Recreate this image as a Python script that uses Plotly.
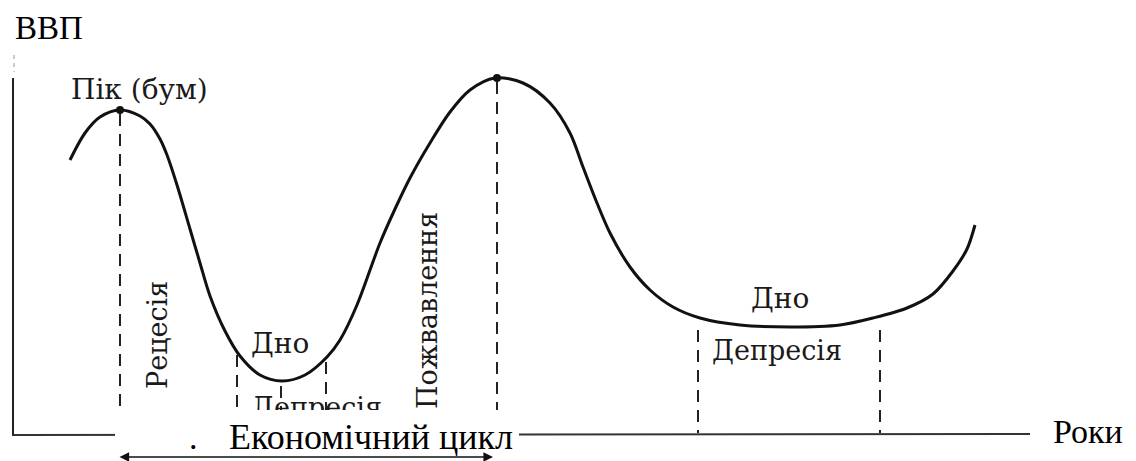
import plotly.graph_objects as go

# ---- data (x = time position, y = GDP level) ----
years = [70, 85, 100, 120, 140, 150, 160, 167, 177, 190, 200, 210, 225, 240, 260, 282,
         305, 327, 340, 357, 380, 395, 410, 430, 450, 470, 495, 523, 550, 570, 583, 597,
         610, 630, 650, 673, 700, 740, 790, 840, 873, 907, 933, 953, 967, 975]
gdp = [301, 328, 344, 351, 345, 337, 322, 306, 276, 232, 198, 165, 130, 105, 86, 80,
       86, 104, 121, 156, 218, 252, 283, 318, 349, 371, 383, 378, 358, 328, 294, 258,
       228, 194, 171, 154, 143, 136, 134, 136, 143, 153, 167, 190, 212, 236]
peak_years = [120, 497]
peak_gdp = [351, 383]

W, H = 1136, 461
OFF = 8  # page body margin compensation

def Y(py):
    return H - py

serif_book = "DejaVu Serif"
times = "Liberation Serif"

fig = go.Figure()
fig.add_trace(go.Scatter(x=years, y=gdp, mode="lines",
                         line=dict(color="#111", width=3, shape="spline", smoothing=0.9),
                         hoverinfo="skip", showlegend=False))
fig.add_trace(go.Scatter(x=peak_years, y=peak_gdp, mode="markers",
                         marker=dict(color="#111", size=8), showlegend=False))
# label partly hidden under the white caption box (drawn as a trace so the box covers it)
fig.add_trace(go.Scatter(x=[317], y=[Y(410)], mode="text", text=["Депресія"],
                         textposition="middle center",
                         textfont=dict(family=serif_book, size=27, color="#1a1a1a"),
                         hoverinfo="skip", showlegend=False))

shapes = []
dash = "12px,8px"
def vdash(x, top, bottom):
    shapes.append(dict(type="line", x0=x, x1=x, y0=Y(top), y1=Y(bottom),
                       line=dict(color="#222", width=2, dash=dash), layer="below"))

vdash(120, 114, 410)
vdash(497, 82, 410)
vdash(237, 355, 410)
vdash(281, 386, 410)
vdash(326, 362, 410)
vdash(698, 330, 433)
vdash(880, 330, 433)

# axes
shapes.append(dict(type="line", x0=13, x1=13, y0=Y(78), y1=Y(436),
                   line=dict(color="#222", width=2), layer="below"))
shapes.append(dict(type="line", x0=14, x1=14, y0=Y(55), y1=Y(72),
                   line=dict(color="#bbb", width=1.5, dash="4px,4px"), layer="below"))
shapes.append(dict(type="line", x0=13, x1=1030, y0=Y(435), y1=Y(434),
                   line=dict(color="#333", width=2), layer="below"))
# white caption box covering part of the figure
shapes.append(dict(type="rect", x0=115, x1=519, y0=Y(410), y1=Y(453),
                   fillcolor="white", line=dict(width=0), layer="above"))

ann = []
def txt(x, py, s, size, font=serif_book, angle=0, color="#1a1a1a", xanchor="center"):
    ann.append(dict(x=x, y=Y(py), text=s, showarrow=False, textangle=angle,
                    font=dict(family=font, size=size, color=color),
                    xanchor=xanchor, yanchor="middle"))

txt(13, 28, "ВВП", 33, font=times, color="black", xanchor="left")
txt(139, 89, "Пік (бум)", 28)
txt(157, 335, "Рецесія", 27, angle=-90)
txt(427, 311, "Пожвавлення", 27, angle=-90)
txt(280, 343, "Дно", 28)
txt(780, 298, "Дно", 28)
txt(777, 350, "Депресія", 27)
txt(1088, 431, "Роки", 34, font=times, color="black")
txt(193, 437, ".", 34, font=times, color="black")
txt(371, 437, "Економічний цикл", 36, font=times, color="black")

fig.update_layout(annotations=ann, shapes=shapes)
# double-headed arrow for the cycle length
fig.add_annotation(x=493, y=Y(457), ax=118, ay=Y(457), xref="x", yref="y",
                   axref="x", ayref="y", text="", showarrow=True,
                   arrowhead=2, arrowside="end+start", arrowsize=1.2,
                   arrowwidth=1.6, arrowcolor="#111")

fig.update_layout(width=W, height=H, margin=dict(l=0, r=0, t=0, b=0),
                  paper_bgcolor="white", plot_bgcolor="white",
                  xaxis=dict(range=[OFF, W + OFF], visible=False, fixedrange=True),
                  yaxis=dict(range=[-OFF, H - OFF], visible=False, fixedrange=True),
                  showlegend=False)
fig.write_html("out.html")
